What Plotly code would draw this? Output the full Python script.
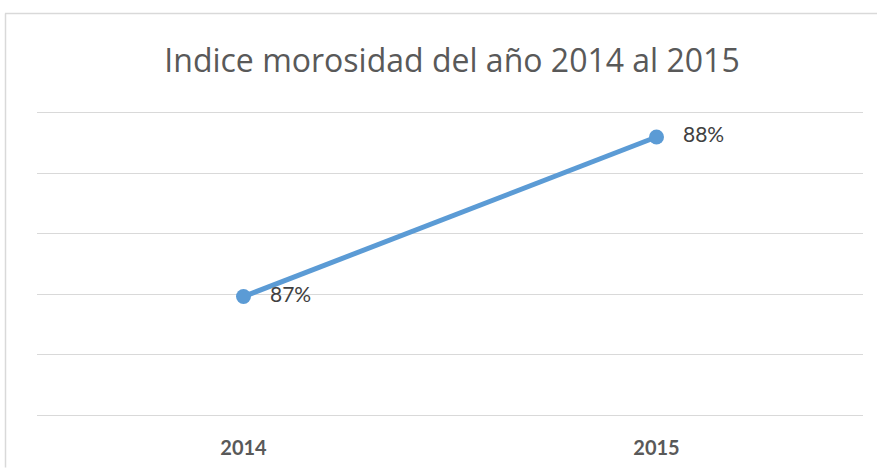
import plotly.graph_objects as go

years = ["2014", "2015"]
morosidad = [0.8698, 0.8830]
title_text = "Indice morosidad del año 2014 al 2015"

fig = go.Figure()
fig.add_trace(go.Scatter(
    x=years, y=morosidad, mode="lines+markers+text",
    line=dict(color="#5B9BD5", width=5),
    marker=dict(color="#5B9BD5", size=15),
    texttemplate="   %{y:.0%}", textposition="middle right",
    textfont=dict(family="Lato", size=21, color="#404040"),
    cliponaxis=False, showlegend=False, hoverinfo="skip",
))

W, H = 877, 471
L, R, T, B = 37, 14, 108, 53
pw, ph = W - L - R, H - T - B

def px(x):
    return (x - L) / pw

def py(y):
    return (H - B - y) / ph

fig.update_layout(
    width=W, height=H,
    margin=dict(l=L, r=R, t=T, b=B),
    paper_bgcolor="white", plot_bgcolor="white",
    title=dict(text=title_text, x=452 / W, xanchor="center", y=1 - 61 / H, yanchor="middle",
               font=dict(family="Open Sans", size=32, color="#595959", weight=400)),
    xaxis=dict(showgrid=False, showline=True, linecolor="#D9D9D9", linewidth=1,
               ticks="", ticklabelstandoff=15,
               tickfont=dict(family="Lato", size=20, color="#595959", weight="bold"),
               range=[-0.5, 1.5], fixedrange=True),
    yaxis=dict(range=[0.86, 0.8854], dtick=0.005, showgrid=True, gridcolor="#D9D9D9",
               gridwidth=1, showticklabels=False, zeroline=False, ticks="",
               fixedrange=True),
    shapes=[
        dict(type="line", xref="paper", yref="paper", x0=px(5), x1=px(877), y0=py(12.5), y1=py(12.5),
             line=dict(color="#D9D9D9", width=1.5)),
        dict(type="line", xref="paper", yref="paper", x0=px(5.5), x1=px(5.5), y0=py(12.5), y1=py(471),
             line=dict(color="#D9D9D9", width=1.5)),
    ],
)

fig.write_html("out.html", config={"displayModeBar": False},
               post_script="document.body.style.margin='0';")
